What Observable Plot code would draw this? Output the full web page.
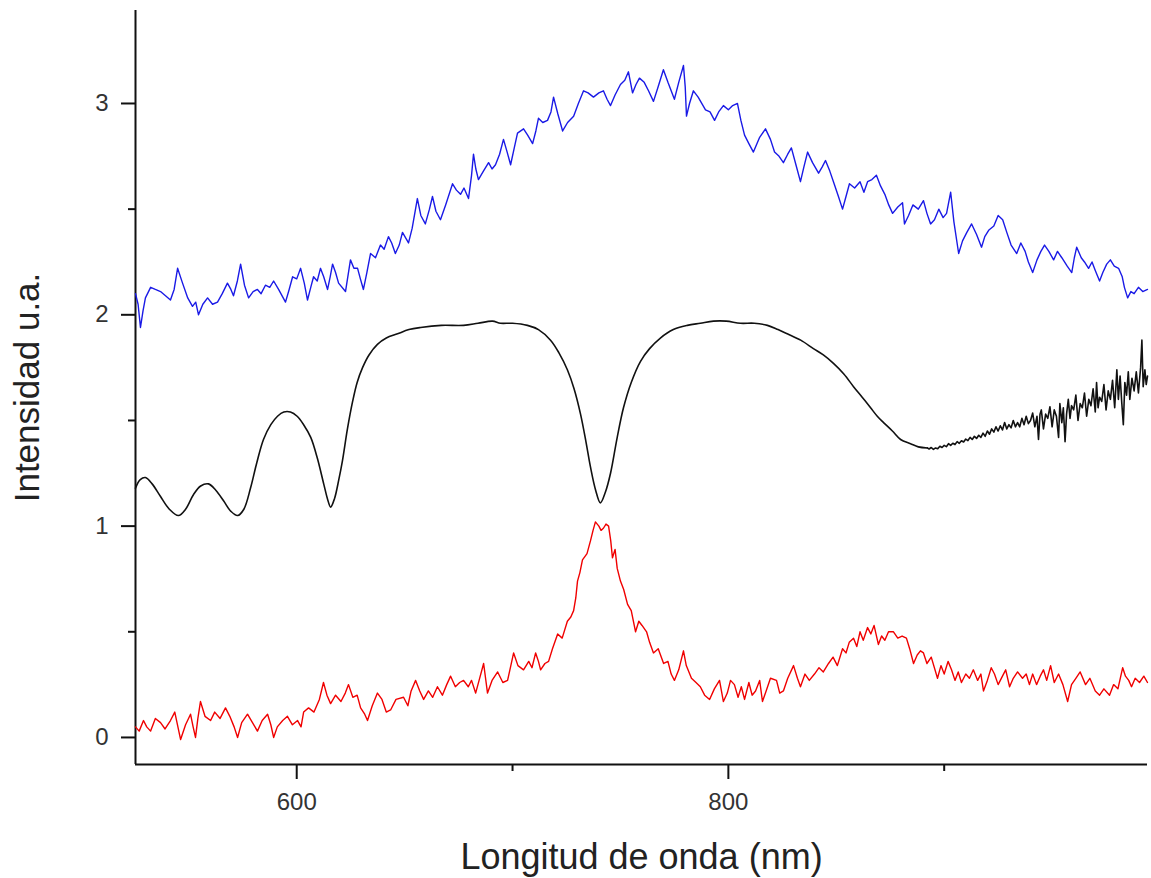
<!DOCTYPE html>
<html><head><meta charset="utf-8">
<script src="https://cdn.jsdelivr.net/npm/d3@7"></script>
<script src="https://cdn.jsdelivr.net/npm/@observablehq/plot@0.6"></script>
<style>body{margin:0;background:#fff}</style>
</head><body><div id="chart"></div>
<script>
// wavelength (nm), intensity (u.a.)
const blue = [[525.3,2.10],[526.5,2.05],[527.6,1.94],[528.8,2.02],[529.9,2.08],[532.3,2.13],[534.5,2.12],[536.9,2.11],[539.2,2.09],[541.5,2.07],[543.2,2.12],[544.8,2.22],[547.1,2.15],[549.5,2.08],[551.7,2.04],[553.2,2.06],[554.5,2.00],[556.5,2.05],[558.7,2.08],[561,2.05],[563.3,2.06],[565.5,2.10],[567.9,2.15],[569.5,2.12],[570.7,2.09],[572.5,2.16],[574.0,2.24],[575.8,2.14],[577.7,2.08],[579.8,2.11],[581.8,2.12],[583.5,2.10],[585.5,2.14],[587.5,2.13],[589.3,2.16],[591.6,2.12],[594.8,2.06],[596.5,2.12],[598.1,2.18],[600,2.17],[601.8,2.22],[603.5,2.15],[605.0,2.07],[606.5,2.13],[607.8,2.18],[609.5,2.16],[611.0,2.22],[612.5,2.18],[614.3,2.12],[615.5,2.18],[616.6,2.24],[618,2.20],[619.4,2.15],[622.6,2.11],[624.9,2.26],[626.5,2.22],[628.2,2.22],[629.5,2.17],[630.9,2.12],[632.5,2.20],[634.2,2.29],[636.5,2.27],[638.8,2.33],[640.5,2.31],[642.5,2.37],[644,2.34],[645.7,2.29],[647.5,2.33],[649.0,2.39],[651.8,2.34],[653.5,2.41],[655.9,2.55],[657.5,2.47],[659.6,2.43],[661.5,2.50],[662.9,2.56],[664.5,2.49],[666.6,2.45],[669,2.52],[672.2,2.62],[674,2.59],[675.9,2.57],[677.5,2.60],[679.6,2.55],[681.0,2.66],[681.9,2.76],[683,2.69],[684.2,2.64],[686.5,2.68],[688.9,2.72],[690.5,2.69],[692.1,2.71],[694,2.76],[695.8,2.83],[697.5,2.77],[699.1,2.71],[700.8,2.79],[702.3,2.86],[705.1,2.88],[707,2.85],[709.3,2.81],[710.8,2.87],[712.0,2.93],[714,2.91],[716.2,2.92],[717.8,2.96],[719.0,3.03],[721,2.95],[723.2,2.87],[725.5,2.91],[728.3,2.94],[730.5,3.00],[732.9,3.06],[735,3.05],[737.5,3.03],[740,3.05],[742.1,3.06],[743.8,3.02],[745.4,2.99],[747.5,3.04],[750.0,3.09],[752,3.11],[753.7,3.15],[755.6,3.05],[757.2,3.09],[758.8,3.12],[761,3.10],[763,3.06],[765.3,3.01],[767.5,3.08],[769.9,3.16],[772,3.10],[773.5,3.06],[775.0,3.02],[777,3.10],[779.2,3.18],[780.0,3.08],[780.6,2.94],[782,3.00],[783.8,3.06],[786,3.03],[789.4,2.97],[791.5,2.96],[793.6,2.92],[795.5,2.96],[797.7,2.99],[800,2.97],[802,2.99],[804.2,3.00],[805.8,2.92],[807.5,2.85],[809.5,2.81],[811.6,2.77],[814.5,2.84],[817.2,2.88],[819.5,2.83],[821.4,2.77],[823.5,2.75],[825.5,2.72],[827.5,2.76],[829.2,2.79],[831.3,2.71],[833.4,2.63],[835,2.70],[836.7,2.77],[839,2.72],[841.8,2.67],[843.5,2.70],[845.0,2.73],[847,2.68],[849,2.62],[851,2.56],[852.9,2.50],[854.5,2.56],[856.1,2.62],[858.5,2.60],[861,2.63],[862.8,2.58],[864.5,2.63],[866.5,2.64],[868.6,2.66],[870.5,2.61],[872.5,2.57],[874.3,2.52],[876.1,2.48],[878.5,2.51],[880.7,2.53],[881.6,2.43],[883.5,2.47],[885.5,2.52],[888,2.50],[890.4,2.54],[892,2.48],[893.7,2.43],[895.5,2.45],[897.5,2.50],[899.5,2.46],[901.1,2.48],[903.0,2.58],[904.5,2.44],[906.7,2.29],[908.5,2.35],[910.5,2.39],[912.7,2.43],[915,2.38],[917.3,2.32],[918.8,2.37],[920.6,2.40],[923,2.42],[925,2.47],[927.1,2.45],[929,2.39],[931,2.33],[933.6,2.29],[935.5,2.34],[937.5,2.30],[939,2.25],[941.0,2.20],[943,2.26],[944.8,2.30],[946.5,2.33],[948.5,2.30],[950.7,2.26],[952.5,2.30],[954.5,2.27],[957,2.23],[959.1,2.20],[960.3,2.27],[961.4,2.32],[963.5,2.27],[965,2.25],[966.9,2.22],[968.5,2.25],[970,2.21],[972.0,2.16],[973.5,2.20],[975.3,2.24],[977,2.26],[978.8,2.23],[980.8,2.22],[982.5,2.18],[983.5,2.13],[985.0,2.08],[986.5,2.11],[988,2.10],[990,2.13],[992,2.11],[994.2,2.12]];

const blackSmooth = [[525.3,1.18],[527.5,1.22],[529.9,1.23],[533,1.20],[536.9,1.14],[541,1.08],[545.2,1.05],[548.5,1.08],[552.2,1.15],[555.5,1.19],[559.1,1.20],[562.5,1.17],[566.1,1.12],[569.5,1.07],[572.6,1.05],[575.5,1.08],[578.6,1.18],[581.5,1.30],[584.6,1.41],[588,1.48],[591.1,1.52],[594,1.54],[597.1,1.54],[600.2,1.52],[603.2,1.48],[606.5,1.42],[609.6,1.32],[612.5,1.20],[614.5,1.12],[615.7,1.09],[617.5,1.13],[619.5,1.22],[621.2,1.31],[623.5,1.46],[625.9,1.59],[628,1.68],[630.5,1.75],[633.5,1.81],[637.4,1.86],[641.5,1.89],[646.7,1.91],[652,1.93],[657.4,1.94],[667,1.95],[677.3,1.95],[684,1.96],[690.7,1.97],[694.4,1.96],[700,1.96],[706.9,1.95],[712,1.93],[717.6,1.88],[721.5,1.82],[725.4,1.74],[728.5,1.65],[731.5,1.53],[734,1.40],[736.1,1.28],[738.5,1.17],[740.7,1.11],[743,1.16],[745.4,1.25],[748.5,1.42],[751.4,1.56],[755,1.68],[759.3,1.78],[763.5,1.84],[768.5,1.89],[774.5,1.93],[781.0,1.95],[787,1.96],[793.1,1.97],[799,1.97],[805.6,1.96],[812,1.96],[818.1,1.95],[823,1.93],[827.3,1.91],[833.5,1.88],[839.4,1.84],[844,1.81],[848.7,1.77],[853.5,1.72],[858.0,1.66],[862,1.61],[865.9,1.56],[869,1.52],[871.9,1.49],[876,1.45],[879.8,1.41],[884.4,1.39],[888,1.375],[892.2,1.37]];

const blackTail = [[892.2,1.37],[893,1.365],[894,1.372],[895,1.363],[896,1.37],[897,1.366],[898,1.378],[899,1.372],[900,1.382],[901,1.376],[902,1.39],[903,1.382],[904,1.392],[905,1.386],[906,1.40],[907,1.392],[908,1.404],[909,1.398],[910,1.412],[911,1.405],[912,1.42],[913,1.41],[914,1.425],[915,1.415],[916,1.43],[917,1.42],[918,1.44],[919,1.425],[920,1.45],[921,1.435],[922,1.46],[923,1.445],[924,1.47],[925,1.45],[926,1.475],[927,1.455],[928,1.49],[929,1.46],[930,1.48],[931,1.465],[932,1.50],[933,1.47],[934,1.49],[935,1.47],[936,1.51],[937,1.48],[938,1.52],[939,1.485],[940,1.50],[941,1.535],[942,1.47],[943,1.52],[943.7,1.41],[944.4,1.53],[945,1.55],[946,1.46],[947,1.53],[948,1.51],[949,1.565],[950,1.47],[951,1.55],[952,1.52],[953,1.42],[953.6,1.58],[954.5,1.49],[955.2,1.56],[956,1.40],[956.7,1.53],[957.5,1.60],[958.3,1.51],[959,1.57],[960,1.55],[961,1.62],[962,1.50],[963,1.58],[964,1.56],[965,1.63],[966,1.52],[967,1.60],[968,1.57],[969,1.65],[970,1.54],[970.6,1.68],[971.3,1.56],[972,1.61],[973,1.59],[974,1.67],[975,1.55],[976,1.64],[977,1.60],[978,1.69],[979,1.56],[980,1.74],[980.7,1.60],[981.5,1.71],[982.3,1.58],[983,1.48],[983.7,1.68],[984.5,1.62],[985.3,1.73],[986,1.60],[987,1.70],[988,1.64],[989,1.73],[990,1.63],[991,1.75],[991.6,1.88],[992.2,1.66],[993,1.74],[993.6,1.67],[994.2,1.71]];

const red = [[525.3,0.05],[527,0.03],[529.0,0.08],[530.5,0.05],[532.3,0.03],[534.5,0.09],[536.9,0.07],[539,0.04],[541.5,0.08],[543.5,0.12],[546.2,-0.01],[548.5,0.06],[550.8,0.11],[552,0.05],[553.1,0.00],[554.2,0.09],[555.4,0.17],[557.5,0.10],[560.1,0.08],[562,0.12],[564.5,0.09],[567.0,0.14],[569,0.10],[571,0.05],[572.6,0.00],[574.5,0.07],[577.2,0.11],[579.5,0.07],[581.8,0.03],[584,0.08],[586.5,0.11],[588,0.06],[589.3,0.00],[591,0.05],[593.5,0.08],[595.7,0.10],[598,0.06],[600.4,0.08],[602,0.05],[603.2,0.12],[605.5,0.14],[608,0.12],[610.5,0.18],[612.4,0.26],[614,0.20],[615.7,0.16],[618,0.20],[620.5,0.17],[622.5,0.21],[624.0,0.25],[626,0.19],[628,0.20],[629.6,0.14],[631.5,0.11],[632.8,0.08],[635,0.15],[637.4,0.21],[639.5,0.18],[641.5,0.12],[643.5,0.13],[646,0.18],[649.5,0.19],[651.5,0.15],[653,0.22],[655.1,0.27],[657,0.22],[658.8,0.18],[661,0.22],[663,0.19],[665.2,0.24],[667.5,0.20],[669.5,0.25],[671.3,0.29],[673.5,0.24],[675.5,0.26],[677.3,0.27],[679.5,0.24],[681,0.27],[682.9,0.21],[684.5,0.27],[686.6,0.35],[687.5,0.28],[688.4,0.21],[690.5,0.27],[693.1,0.31],[695.5,0.26],[697.7,0.27],[699,0.33],[700.5,0.40],[702.5,0.34],[705.1,0.32],[707.5,0.36],[709,0.33],[710.7,0.40],[712,0.36],[713.0,0.32],[715,0.35],[716.7,0.36],[718.5,0.42],[720.9,0.49],[723,0.47],[725.4,0.55],[727,0.57],[728.3,0.60],[729.3,0.66],[730.1,0.74],[731.2,0.78],[732.4,0.84],[734.5,0.87],[736.1,0.93],[737.3,0.98],[738.4,1.02],[740,1.00],[741,0.98],[742.1,0.99],[743.3,1.01],[744.5,1.00],[745.5,0.93],[746.3,0.85],[747.5,0.89],[748.5,0.80],[750.0,0.74],[751.5,0.70],[753.3,0.63],[755,0.60],[757.0,0.50],[758.5,0.55],[760,0.53],[762.1,0.50],[763.5,0.45],[765.3,0.40],[767.5,0.42],[770.0,0.35],[772,0.36],[773.5,0.30],[775.0,0.27],[777,0.32],[779.2,0.41],[780.5,0.34],[782.9,0.28],[785,0.26],[787,0.24],[789,0.20],[791.3,0.18],[793.5,0.23],[795.9,0.27],[797.7,0.17],[799.5,0.21],[801,0.27],[802.8,0.25],[804.5,0.19],[806,0.24],[807.5,0.18],[809.5,0.26],[811,0.20],[812.6,0.22],[814.5,0.27],[815.8,0.17],[817.5,0.22],[819.5,0.28],[822.3,0.27],[823.8,0.21],[825.5,0.22],[827.5,0.28],[830.2,0.34],[832,0.28],[833.4,0.24],[835.5,0.30],[837.5,0.27],[839.9,0.30],[842,0.33],[844,0.31],[846.4,0.35],[848.5,0.38],[850.5,0.34],[852.9,0.42],[854.5,0.40],[856,0.45],[858.0,0.47],[859.5,0.43],[861,0.50],[862.5,0.46],[864.5,0.52],[866,0.49],[867.5,0.53],[869.5,0.44],[871,0.48],[872.5,0.46],[874.2,0.50],[876.5,0.50],[878.5,0.47],[880.5,0.48],[882.5,0.47],[884,0.42],[885.8,0.35],[887.5,0.39],[889,0.41],[890.4,0.40],[892,0.35],[894,0.38],[896.9,0.28],[898.5,0.34],[900,0.30],[901.8,0.36],[903.4,0.32],[905,0.27],[906.5,0.31],[908,0.26],[910,0.30],[911.7,0.28],[913.5,0.32],[915.5,0.27],[917,0.30],[918.2,0.22],[920,0.27],[921.8,0.33],[923.3,0.30],[925,0.25],[927,0.29],[928.5,0.32],[930.3,0.24],[932,0.28],[934,0.31],[936.3,0.28],[938,0.30],[939.5,0.25],[941,0.30],[942.8,0.25],[944.5,0.29],[946,0.32],[947.5,0.27],[949.3,0.34],[951,0.26],[953,0.30],[955,0.25],[957.2,0.17],[959,0.25],[961,0.28],[963,0.31],[965.5,0.25],[967.5,0.28],[970,0.22],[972.0,0.20],[974,0.23],[976.6,0.20],[978.5,0.25],[980.5,0.23],[982.7,0.33],[984,0.29],[985.5,0.27],[986.8,0.24],[988.5,0.28],[990.5,0.26],[992.5,0.29],[994.2,0.26]];

const yMajor = [0, 1, 2, 3];
const yMinor = [0.5, 1.5, 2.5];
const xMajor = [600, 800];
const xMinor = [700, 900];
const xDomain = [525.3, 994.2];
const yDomain = [-0.128, 3.44];
const xTitle = "Longitud de onda (nm)";
const yTitle = "Intensidad u.a.";

const chart = Plot.plot({
  width: 1151,
  height: 878,
  marginLeft: 135,
  marginRight: 4,
  marginTop: 10,
  marginBottom: 114,
  style: {fontFamily: "'Liberation Sans', Arial, sans-serif", background: "#fff", color: "#333"},
  x: {domain: xDomain},
  y: {domain: yDomain},
  marks: [
    Plot.axisY({ticks: yMajor, tickSize: 14, tickPadding: 13, fontSize: 24, strokeWidth: 2, stroke: "#111", fill: "#333", tickFormat: d => String(d), label: null}),
    Plot.axisY({ticks: yMinor, tickSize: 7, strokeWidth: 2, stroke: "#111", tickFormat: () => "", label: null}),
    Plot.axisX({ticks: xMajor, tickSize: 15, tickPadding: 13, fontSize: 24, strokeWidth: 2, stroke: "#111", fill: "#333", tickFormat: d => String(d), label: null}),
    Plot.axisX({ticks: xMinor, tickSize: 7, strokeWidth: 2, stroke: "#111", tickFormat: () => "", label: null}),
    Plot.ruleX([xDomain[0]], {stroke: "#111", strokeWidth: 2}),
    Plot.ruleY([yDomain[0]], {stroke: "#111", strokeWidth: 2}),
    Plot.line(blue, {x: d => d[0], y: d => d[1], stroke: "#1a1ae6", strokeWidth: 1.4}),
    Plot.line(blackSmooth, {x: d => d[0], y: d => d[1], stroke: "#111", strokeWidth: 1.6, curve: "catmull-rom"}),
    Plot.line(blackTail, {x: d => d[0], y: d => d[1], stroke: "#111", strokeWidth: 1.6}),
    Plot.line(red, {x: d => d[0], y: d => d[1], stroke: "#f00000", strokeWidth: 1.4}),
    Plot.text([xTitle], {frameAnchor: "bottom", textAnchor: "middle", lineAnchor: "top", dy: 79, fontSize: 36, fill: "#222"}),
    Plot.text([yTitle], {frameAnchor: "left", textAnchor: "middle", dx: -108, rotate: -90, fontSize: 35, fill: "#222"})
  ]
});
document.getElementById("chart").appendChild(chart);
</script>
</body></html>
